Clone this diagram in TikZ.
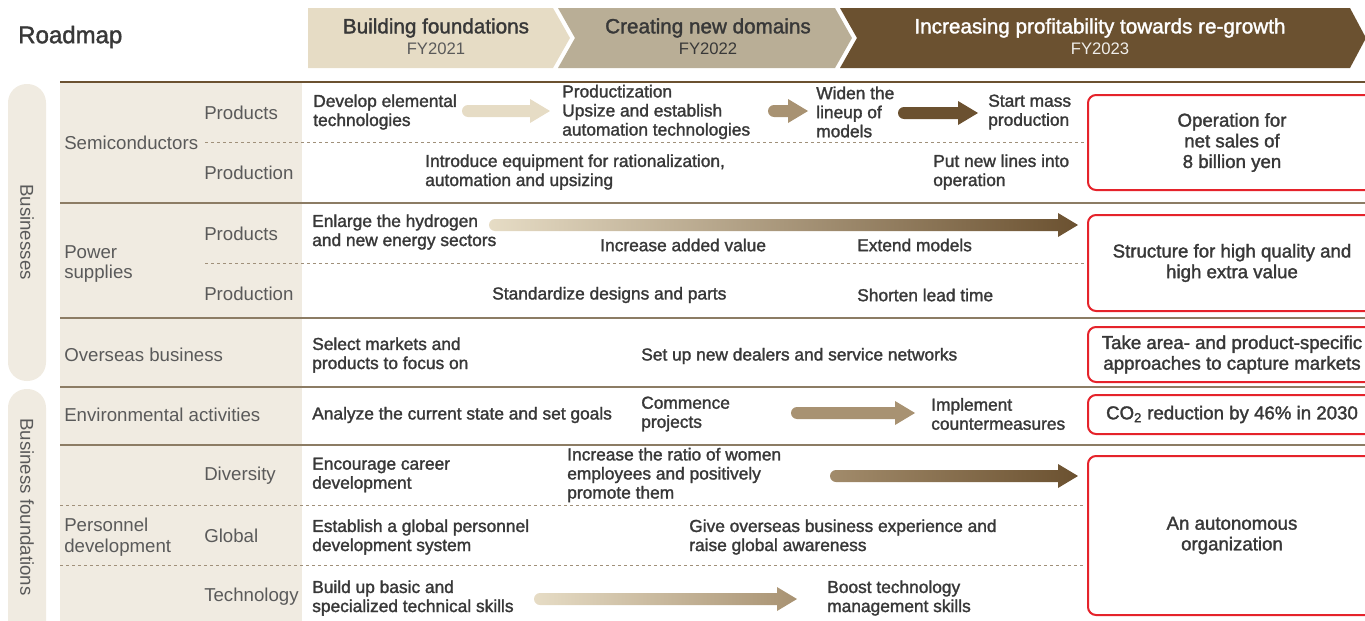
\documentclass[tikz,border=0pt]{standalone}
\usepackage{ fontspec }
\setmainfont{Liberation Sans}
\newfontfamily\medfont[FakeBold=1.6]{Liberation Sans}
\usepackage{ tikz }
\usetikzlibrary{ calc }

\definecolor{brdark}{HTML}{6B5130}
\definecolor{brmid}{HTML}{A89272}
\definecolor{brlight}{HTML}{E6DCC5}
\definecolor{hdrmid}{HTML}{B9AE96}
\definecolor{rowcol}{HTML}{8C7C64}
\definecolor{dashcol}{HTML}{A0907A}
\definecolor{panecol}{HTML}{F0EBE1}
\definecolor{boxred}{HTML}{E5232B}
\definecolor{txt}{HTML}{383838}
\definecolor{lbltxt}{HTML}{5A5A5A}

\newcommand\fatarrow[3]{%
  \shade[#3] let \p1=(#1), \p2=(#2) in
    (\x2,\y2) -- (\x2-15pt,\y2+9pt) -- (\x2-15pt,\y2+4.5pt) -- (\x1,\y1+4.5pt)
    arc[start angle=90,end angle=270,radius=4.5pt]
    -- (\x2-15pt,\y2-4.5pt) -- (\x2-15pt,\y2-9pt) -- cycle;}

\begin{document}
\begin{tikzpicture}[x=0.75pt,y=-0.75pt,
        cell/.style={anchor=west, inner sep=0pt, align=left, text=txt, font=\medfont\fontsize{13}{14.3}\selectfont},
        lbl/.style={anchor=west, inner sep=0pt, align=left, text=lbltxt, font=\fontsize{14}{15.5}\selectfont},
        goal/.style={draw=boxred, line width=1.5pt, rounded corners=6pt, fill=white, align=center, text=txt,
            inner sep=0pt, minimum width=216pt, font=\medfont\fontsize{14}{15.5}\selectfont},
        hdr/.style={inner sep=0pt, font=\medfont\fontsize{15.5}{17}\selectfont},
        yr/.style={inner sep=0pt, font=\fontsize{12.5}{14}\selectfont},
        rowline/.style={draw=rowcol, line width=1.1pt},
        subline/.style={draw=dashcol, line width=0.7pt, dash pattern=on 2.5pt off 2pt}]
        \useasboundingbox (0,0) rectangle (1365,621);
        \clip (0,0) rectangle (1365,621);

        \fill[brlight] (308,8) -- (553,8) -- (570,38) -- (553,68) -- (308,68) -- cycle;
        \fill[hdrmid] (558,8) -- (835,8) -- (852,38) -- (835,68) -- (558,68) -- (575,38) -- cycle;
        \fill[brdark] (840,8) -- (1350,8) -- (1366,38) -- (1350,68) -- (840,68) -- (857,38) -- cycle;

        \node[anchor=west, inner sep=0pt, text=txt, font=\medfont\fontsize{18}{20}\selectfont] (title) at (18,37) {Roadmap};
        \node[hdr, text=txt] (ph1) at (436,28) {Building foundations};
        \node[yr, text=lbltxt] (fy1) at (436,49) {FY2021};
        \node[hdr, text=txt] (ph2) at (708,28) {Creating new domains};
        \node[yr, text=txt] (fy2) at (708,49) {FY2022};
        \node[hdr, text=white] (ph3) at (1100,28) {Increasing profitability towards re-growth};
        \node[yr, text=white!90!brdark] (fy3) at (1100,49) {FY2023};

        \fill[panecol] (60,82) rectangle (302,630);
        \fill[panecol, rounded corners=14pt] (8,84) rectangle (46,381);
        \fill[panecol, rounded corners=14pt] (8,389) rectangle (46,660);
        \node[lbl, anchor=center, rotate=-90] (bus) at (27,232) {Businesses};
        \node[lbl, anchor=center, rotate=-90] (found) at (27,507) {Business foundations};

        \draw[rowline, draw=brdark] (60,82) -- (1365,82);
        \foreach \yy in {203,318,387,445}
            \draw[rowline] (60,\yy) -- (1365,\yy);
        \draw[subline] (205,142) -- (1085,142);
        \draw[subline] (205,263) -- (1085,263);
        \draw[subline] (60,505) -- (1085,505);
        \draw[subline] (60,565) -- (1085,565);

        \node[lbl] (semi) at (64,143) {Semiconductors};
        \node[lbl] (semiprod) at (204,113) {Products};
        \node[lbl] (semiline) at (204,173) {Production};
        \node[lbl] (power) at (64,264) {Power\\supplies};
        \node[lbl] (powprod) at (204,234) {Products};
        \node[lbl] (powline) at (204,294) {Production};
        \node[lbl] (ovs) at (64,355) {Overseas business};
        \node[lbl] (env) at (64,415) {Environmental activities};
        \node[lbl] (pers) at (64,537.5) {Personnel\\development};
        \node[lbl] (div) at (204,476) {Diversity};
        \node[lbl] (glob) at (204,536) {Global};
        \node[lbl] (tech) at (204,597) {Technology};

        \node[cell] (semA) at (313,112) {Develop elemental\\technologies};
        \node[cell] (semB) at (562,112) {Productization\\Upsize and establish\\automation technologies};
        \node[cell] (semC) at (816,112) {Widen the\\lineup of\\models};
        \node[cell] (semD) at (988,112) {Start mass\\production};
        \node[cell] (semE) at (425,172) {Introduce equipment for rationalization,\\automation and upsizing};
        \node[cell] (semF) at (933,172) {Put new lines into\\operation};

        \node[cell] (powA) at (312,232) {Enlarge the hydrogen\\and new energy sectors};
        \node[cell] (powB) at (600,245) {Increase added value};
        \node[cell] (powC) at (857,245) {Extend models};
        \node[cell] (powD) at (492,295) {Standardize designs and parts};
        \node[cell] (powE) at (857,295) {Shorten lead time};

        \node[cell] (ovsA) at (312,355) {Select markets and\\products to focus on};
        \node[cell] (ovsB) at (641,356) {Set up new dealers and service networks};

        \node[cell] (envA) at (312,415) {Analyze the current state and set goals};
        \node[cell] (envB) at (641,414) {Commence\\projects};
        \node[cell] (envC) at (931,414) {Implement\\countermeasures};

        \node[cell] (perA) at (312,475) {Encourage career\\development};
        \node[cell] (perB) at (567,475) {Increase the ratio of women\\employees and positively\\promote them};
        \node[cell] (perC) at (312,537) {Establish a global personnel\\development system};
        \node[cell] (perD) at (689,537) {Give overseas business experience and\\raise global awareness};
        \node[cell] (perE) at (312,598) {Build up basic and\\specialized technical skills};
        \node[cell] (perF) at (827,598) {Boost technology\\management skills};

        \node[goal, minimum height=71.25pt] (goalA) at (1232,142.5) {Operation for\\net sales of\\8 billion yen};
        \node[goal, minimum height=72pt] (goalB) at (1232,263) {Structure for high quality and\\high extra value};
        \node[goal, minimum height=41.25pt] (goalC) at (1232,354.5) {Take area- and product-specific\\approaches to capture markets};
        \node[goal, minimum height=29.25pt] (goalD) at (1232,414.5) {CO\textsubscript{2} reduction by 46\% in 2030};
        \node[goal, minimum height=119.25pt] (goalE) at (1232,535.5) {An autonomous\\organization};

        \coordinate (a1s) at (468,111);
        \coordinate (a1e) at (550,111);
        \coordinate (a2s) at (774,111);
        \coordinate (a2e) at (808,111);
        \coordinate (a3s) at (904,113);
        \coordinate (a3e) at (978,113);
        \coordinate (a4s) at (495,225);
        \coordinate (a4e) at (1078,225);
        \coordinate (a5s) at (797,413);
        \coordinate (a5e) at (915,413);
        \coordinate (a6s) at (836,476);
        \coordinate (a6e) at (1078,476);
        \coordinate (a7s) at (540,599);
        \coordinate (a7e) at (797,599);

        \fatarrow{a1s}{a1e}{left color=brlight, right color=brlight}
        \fatarrow{a2s}{a2e}{left color=brmid, right color=brmid}
        \fatarrow{a3s}{a3e}{left color=brdark, right color=brdark}
        \fatarrow{a4s}{a4e}{left color=brlight, right color=brdark}
        \fatarrow{a5s}{a5e}{left color=brmid, right color=brmid}
        \fatarrow{a6s}{a6e}{left color=brmid!90!brdark, right color=brdark}
        \fatarrow{a7s}{a7e}{left color=brlight, right color=brmid}
    \end{tikzpicture}
\end{document}
